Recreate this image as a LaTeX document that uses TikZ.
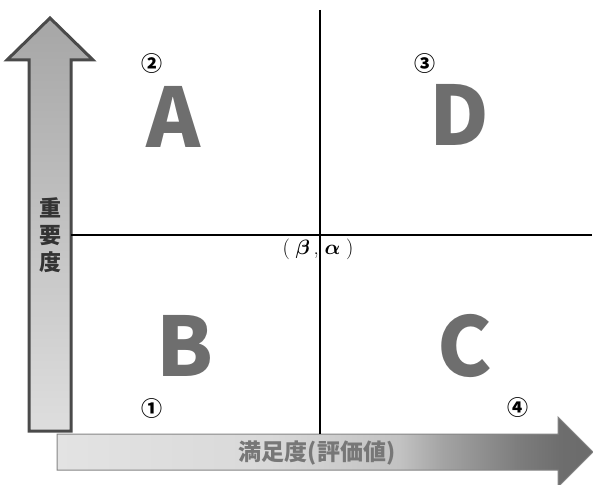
\documentclass[tikz,border=0pt]{standalone}
\usepackage{amsmath}
\usepackage{fontspec}
\usepackage{tikz}
\newfontfamily\cjk{Noto Sans CJK JP}
\definecolor{arrowedge}{HTML}{4A4A4A}
\definecolor{arrowtop}{HTML}{A6A6A6}
\definecolor{arrowbottom}{HTML}{DEDEDE}
\definecolor{bandedge}{HTML}{858585}
\definecolor{bandtext}{HTML}{777777}
\definecolor{lettergray}{HTML}{6E6E6E}
\pgfdeclarehorizontalshading{satisshade}{100bp}{color(0bp)=(white!89!black); color(25bp)=(white!89!black); color(45bp)=(white!85!black); color(57bp)=(white!76!black); color(61bp)=(white!64!black); color(68bp)=(white!49!black); color(72bp)=(white!43!black); color(75bp)=(white!42!black); color(100bp)=(white!42!black)}
\tikzset{
  quadletter/.style={font=\cjk\bfseries\fontsize{82}{82}\selectfont, text=lettergray, inner sep=0pt},
  quadnum/.style={font=\cjk\bfseries\fontsize{21}{21}\selectfont, inner sep=0pt},
  axisline/.style={line width=2pt, black}
}
\begin{document}
\begin{tikzpicture}[x=1pt,y=-1pt]
	\useasboundingbox (0,0) rectangle (593,484);
	\shade[top color=arrowtop, bottom color=arrowbottom, draw=arrowedge, line width=3pt] (50,18) -- (93,60) -- (71,60) -- (71,431) -- (29,431) -- (29,60) -- (7,60) -- cycle;
	\shade[shading=satisshade, draw=bandedge, line width=1pt] (57,434) -- (558,434) -- (558,417) -- (593,452) -- (558,487) -- (558,470) -- (57,470) -- cycle;
	\coordinate (ytop) at (320,10);
	\coordinate (ybottom) at (320,434);
	\coordinate (xleft) at (71,235);
	\coordinate (xright) at (592,235);
	\draw[axisline] (ytop) -- (ybottom);
	\draw[axisline] (xleft) -- (xright);
	\node[font=\cjk\bfseries\fontsize{22}{27}\selectfont, text=black!80, align=center, inner sep=0pt] (importance) at (50,235) {重\\要\\度};
	\node[font=\cjk\bfseries\fontsize{23}{23}\selectfont, text=bandtext, inner sep=0pt] (satisfaction) at (317,453) {満足度(評価値)};
	\node[font=\fontsize{20.74}{24}\selectfont, inner sep=0pt] (origin) at (318,249) {(\;$\boldsymbol{\beta}$\,,\;$\boldsymbol{\alpha}$\;)};
	\node[quadletter] (qa) at (174,117) {A};
	\node[quadletter] (qd) at (459,115) {D};
	\node[quadletter] (qb) at (185,346) {B};
	\node[quadletter] (qc) at (465,346) {C};
	\node[quadnum] (num2) at (152,64) {②};
	\node[quadnum] (num3) at (425,64) {③};
	\node[quadnum] (num1) at (152,409) {①};
	\node[quadnum] (num4) at (518,408) {④};
\end{tikzpicture}
\end{document}
